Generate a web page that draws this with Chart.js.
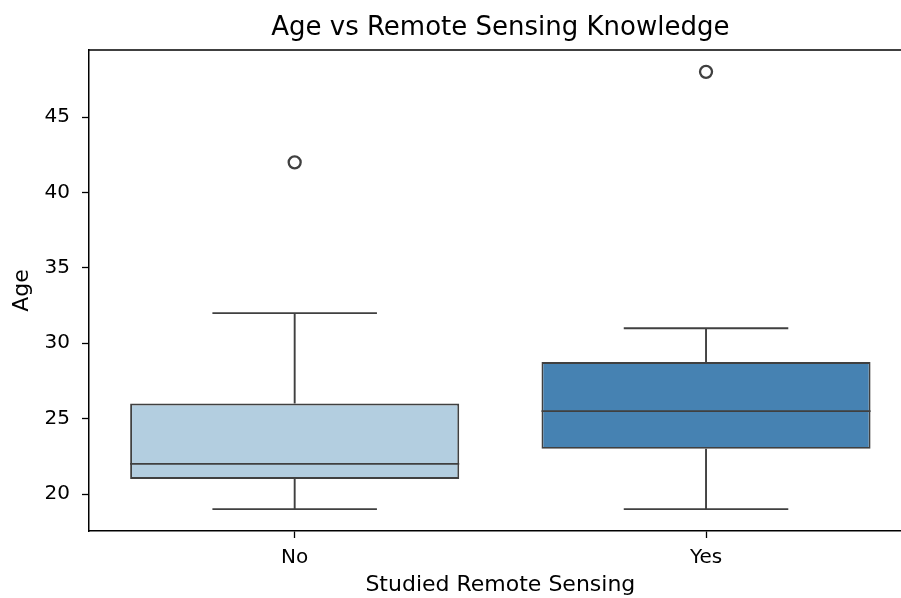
<!DOCTYPE html>
<html>
<head>
<meta charset="utf-8">
<title>Age vs Remote Sensing Knowledge</title>
<script src="https://cdn.jsdelivr.net/npm/chart.js@4.4.1/dist/chart.umd.min.js"></script>
<style>
  html, body { margin: 0; padding: 0; background: #fff; overflow: hidden; }
  #wrap { width: 920px; height: 598px; }
</style>
</head>
<body>
<div id="wrap"><canvas id="age-box"></canvas></div>
<script>
// box statistics per group
const groups = ['No', 'Yes'];
const whiskerLow = [19, 19];
const q1 = [21, 23];
const median = [22, 25.5];
const q3 = [26, 28.75];
const whiskerHigh = [32, 31];
const outliers = [42, 48];
const ageTicks = [20, 25, 30, 35, 40, 45];
const boxColors = ['#b3cee0', '#4682b2'];

const lineGray = '#404040';
const font = 'DejaVu Sans';

// whiskers, caps, medians, top spine and title
const boxParts = {
  id: 'boxParts',
  beforeDatasetsDraw(chart) {
    const { ctx, scales: { x, y } } = chart;
    const bars = chart.getDatasetMeta(0).data;
    ctx.save();
    ctx.strokeStyle = lineGray;
    ctx.lineWidth = 1.9;
    groups.forEach((g, i) => {
      const cx = x.getPixelForValue(i);
      const half = bars[i].width / 4;
      ctx.beginPath();
      ctx.moveTo(cx, y.getPixelForValue(whiskerLow[i]));
      ctx.lineTo(cx, y.getPixelForValue(q1[i]));
      ctx.moveTo(cx, y.getPixelForValue(q3[i]));
      ctx.lineTo(cx, y.getPixelForValue(whiskerHigh[i]));
      [whiskerLow[i], whiskerHigh[i]].forEach(v => {
        const py = y.getPixelForValue(v);
        ctx.moveTo(cx - half, py);
        ctx.lineTo(cx + half, py);
      });
      ctx.stroke();
    });
    ctx.restore();
  },
  afterDatasetsDraw(chart) {
    const { ctx, chartArea: a, scales: { x, y } } = chart;
    const bars = chart.getDatasetMeta(0).data;
    ctx.save();
    ctx.strokeStyle = lineGray;
    ctx.lineWidth = 1.9;
    groups.forEach((g, i) => {
      const cx = x.getPixelForValue(i);
      const half = bars[i].width / 2;
      const py = y.getPixelForValue(median[i]);
      ctx.beginPath();
      ctx.moveTo(cx - half, py);
      ctx.lineTo(cx + half, py);
      ctx.stroke();
    });
    ctx.strokeStyle = '#000';
    ctx.lineWidth = 1.5;
    ctx.beginPath();
    ctx.moveTo(a.left, a.top);
    ctx.lineTo(a.right, a.top);
    ctx.stroke();
    // title centred over the axes
    ctx.fillStyle = '#000';
    ctx.font = '26px "' + font + '"';
    ctx.textAlign = 'center';
    ctx.textBaseline = 'middle';
    ctx.fillText('Age vs Remote Sensing Knowledge', (a.left + a.right) / 2, 28);
    ctx.restore();
  }
};

new Chart(document.getElementById('age-box'), {
  type: 'bar',
  data: {
    labels: groups,
    datasets: [
      {
        label: 'Age',
        data: groups.map((g, i) => [q1[i], q3[i]]),
        backgroundColor: boxColors,
        borderColor: lineGray,
        borderWidth: 1.9,
        borderSkipped: false,
        barPercentage: 0.8,
        categoryPercentage: 1.0
      },
      {
        type: 'line',
        label: 'Outliers',
        data: outliers,
        showLine: false,
        pointStyle: 'circle',
        pointRadius: 6,
        pointBorderWidth: 2.3,
        pointBorderColor: lineGray,
        pointBackgroundColor: 'rgba(0,0,0,0)'
      }
    ]
  },
  options: {
    responsive: true,
    maintainAspectRatio: false,
    animation: false,
    layout: { padding: { top: 50, left: 0, right: 7, bottom: 0 } },
    plugins: {
      legend: { display: false },
      tooltip: { enabled: false },
      title: { display: false }
    },
    scales: {
      x: {
        offset: true,
        grid: { offset: false, drawOnChartArea: false, tickLength: 7, tickColor: '#000', tickWidth: 1.3 },
        border: { display: true, color: '#000', width: 1.5 },
        ticks: { color: '#000', padding: 8, font: { family: font, size: 20 } },
        title: {
          display: true,
          text: 'Studied Remote Sensing',
          color: '#000',
          padding: { top: 0, bottom: 0 },
          font: { family: font, size: 22 }
        },
        afterFit(scale) { scale.height = 67; }
      },
      y: {
        min: 17.55,
        max: 49.45,
        afterBuildTicks(scale) { scale.ticks = ageTicks.map(v => ({ value: v })); },
        grid: { drawOnChartArea: false, tickLength: 7, tickColor: '#000', tickWidth: 1.3 },
        border: { display: true, color: '#000', width: 1.5 },
        ticks: { color: '#000', padding: 12, font: { family: font, size: 20 } },
        title: {
          display: true,
          text: 'Age',
          color: '#000',
          padding: { top: 9, bottom: 0 },
          font: { family: font, size: 22 }
        },
        afterFit(scale) { scale.width = 89; }
      }
    }
  },
  plugins: [boxParts]
});
</script>
</body>
</html>
